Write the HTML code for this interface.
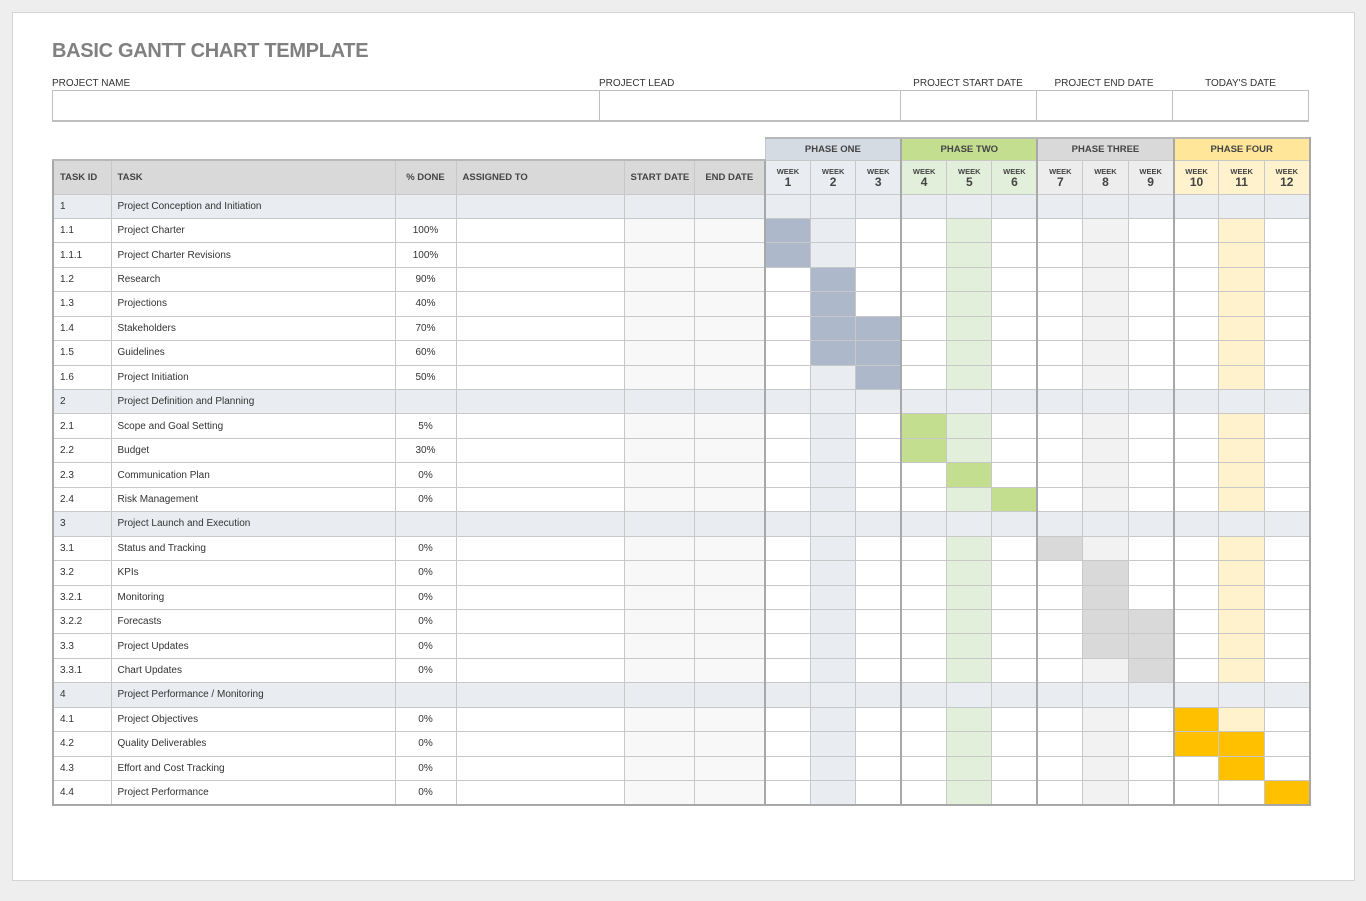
<!DOCTYPE html>
<html><head><meta charset="utf-8"><style>
body{margin:0;background:#eeeeee;width:1366px;height:901px;position:relative;font-family:"Liberation Sans",sans-serif;color:#333}
.card{position:absolute;left:12px;top:12px;width:1341px;height:867px;background:#fff;border:1px solid #d4d4d4}
.title{position:absolute;left:52px;top:40px;font-size:20px;font-weight:bold;color:#808080;letter-spacing:-0.3px}
.lbl{position:absolute;top:78px;font-size:10px;color:#333}
.box{position:absolute;top:90px;height:32px;border:1px solid #bfbfbf;border-bottom:2px solid #bfbfbf;box-sizing:border-box}
table{position:absolute;left:52px;top:137px;border-collapse:collapse;table-layout:fixed;width:1257px}
td{border:1px solid #c8c8c8;padding:0 6px;font-size:10px;height:24.44px;white-space:nowrap;overflow:hidden;box-sizing:border-box}
tr.ph td{height:22px;text-align:center;font-weight:bold;font-size:9.5px;color:#444}
tr.ph td.e{border:none;background:none}
tr.hd td{height:34px;background:#d9d9d9;font-weight:bold;font-size:9.5px;color:#444}
tr.hd td.wk{text-align:center;padding:0;font-size:7.5px;line-height:11px}
tr.hd td.wk b{font-size:12px;display:block}
td.p{text-align:center}
tbody td:nth-child(5),tbody td:nth-child(6){background:#f8f8f8}
tbody td:nth-child(8){background:#e9ecf0}
tbody td:nth-child(11){background:#e2efda}
tbody td:nth-child(14){background:#f2f2f2}
tbody td:nth-child(17){background:#fff2cc}
tbody tr.g td{background:#e9ecf0}
td:nth-child(7),td:nth-child(10),td:nth-child(13),td:nth-child(16){border-left:2px solid #a8a8a8}
td:nth-child(18){border-right:2px solid #a8a8a8}
tbody td.b1{background:#adb9ca}
tbody td.b2{background:#c3de8f}
tbody td.b3{background:#d9d9d9}
tbody td.b4{background:#ffc000}
tbody td.w{background:#fff}
tbody tr:last-child td{border-bottom:2px solid #a8a8a8}
td:first-child{border-left:2px solid #a8a8a8}
</style></head><body>
<div class="card"></div>
<div class="title">BASIC GANTT CHART TEMPLATE</div>
<div class="lbl" style="left:52px">PROJECT NAME</div>
<div class="lbl" style="left:599px">PROJECT LEAD</div>
<div class="lbl" style="left:900px;width:136px;text-align:center">PROJECT START DATE</div>
<div class="lbl" style="left:1036px;width:136px;text-align:center">PROJECT END DATE</div>
<div class="lbl" style="left:1172px;width:137px;text-align:center">TODAY'S DATE</div>
<div class="box" style="left:52px;width:548px"></div>
<div class="box" style="left:599px;width:302px"></div>
<div class="box" style="left:900px;width:137px"></div>
<div class="box" style="left:1036px;width:137px"></div>
<div class="box" style="left:1172px;width:137px"></div>
<table>
<colgroup><col style="width:58px"><col style="width:284px"><col style="width:61px"><col style="width:168px"><col style="width:70px"><col style="width:71px"><col span="12" style="width:45.4px"></colgroup>
<thead>
<tr class="ph"><td class="e" colspan="6" style="border:none"></td><td colspan="3" style="background:#d5dbe3;border-top:2px solid #b8b8b8">PHASE ONE</td><td colspan="3" style="background:#c3de8f;border-top:2px solid #b8b8b8;border-left:2px solid #a8a8a8">PHASE TWO</td><td colspan="3" style="background:#d9d9d9;border-top:2px solid #b8b8b8;border-left:2px solid #a8a8a8">PHASE THREE</td><td colspan="3" style="background:#ffe699;border-top:2px solid #b8b8b8;border-left:2px solid #a8a8a8;border-right:2px solid #a8a8a8">PHASE FOUR</td></tr>
<tr class="hd"><td style="border-top:2px solid #b8b8b8">TASK ID</td><td style="border-top:2px solid #b8b8b8">TASK</td><td class="p" style="border-top:2px solid #b8b8b8">% DONE</td><td style="border-top:2px solid #b8b8b8">ASSIGNED TO</td><td class="p" style="border-top:2px solid #b8b8b8">START DATE</td><td class="p" style="border-top:2px solid #b8b8b8">END DATE</td>
<td class="wk" style="background:#e9ecf0">WEEK<b>1</b></td><td class="wk" style="background:#e9ecf0">WEEK<b>2</b></td><td class="wk" style="background:#e9ecf0">WEEK<b>3</b></td>
<td class="wk" style="background:#e2efda">WEEK<b>4</b></td><td class="wk" style="background:#e2efda">WEEK<b>5</b></td><td class="wk" style="background:#e2efda">WEEK<b>6</b></td>
<td class="wk" style="background:#ededed">WEEK<b>7</b></td><td class="wk" style="background:#ededed">WEEK<b>8</b></td><td class="wk" style="background:#ededed">WEEK<b>9</b></td>
<td class="wk" style="background:#fff2cc">WEEK<b>10</b></td><td class="wk" style="background:#fff2cc">WEEK<b>11</b></td><td class="wk" style="background:#fff2cc">WEEK<b>12</b></td></tr>
</thead>
<tbody>
<tr class="g"><td>1</td><td>Project Conception and Initiation</td><td class="p"></td><td></td><td></td><td></td><td></td><td></td><td></td><td></td><td></td><td></td><td></td><td></td><td></td><td></td><td></td><td></td></tr>
<tr><td>1.1</td><td>Project Charter</td><td class="p">100%</td><td></td><td></td><td></td><td class="b1"></td><td></td><td></td><td></td><td></td><td></td><td></td><td></td><td></td><td></td><td></td><td></td></tr>
<tr><td>1.1.1</td><td>Project Charter Revisions</td><td class="p">100%</td><td></td><td></td><td></td><td class="b1"></td><td></td><td></td><td></td><td></td><td></td><td></td><td></td><td></td><td></td><td></td><td></td></tr>
<tr><td>1.2</td><td>Research</td><td class="p">90%</td><td></td><td></td><td></td><td></td><td class="b1"></td><td></td><td></td><td></td><td></td><td></td><td></td><td></td><td></td><td></td><td></td></tr>
<tr><td>1.3</td><td>Projections</td><td class="p">40%</td><td></td><td></td><td></td><td></td><td class="b1"></td><td></td><td></td><td></td><td></td><td></td><td></td><td></td><td></td><td></td><td></td></tr>
<tr><td>1.4</td><td>Stakeholders</td><td class="p">70%</td><td></td><td></td><td></td><td></td><td class="b1"></td><td class="b1"></td><td></td><td></td><td></td><td></td><td></td><td></td><td></td><td></td><td></td></tr>
<tr><td>1.5</td><td>Guidelines</td><td class="p">60%</td><td></td><td></td><td></td><td></td><td class="b1"></td><td class="b1"></td><td></td><td></td><td></td><td></td><td></td><td></td><td></td><td></td><td></td></tr>
<tr><td>1.6</td><td>Project Initiation</td><td class="p">50%</td><td></td><td></td><td></td><td></td><td></td><td class="b1"></td><td></td><td></td><td></td><td></td><td></td><td></td><td></td><td></td><td></td></tr>
<tr class="g"><td>2</td><td>Project Definition and Planning</td><td class="p"></td><td></td><td></td><td></td><td></td><td></td><td></td><td></td><td></td><td></td><td></td><td></td><td></td><td></td><td></td><td></td></tr>
<tr><td>2.1</td><td>Scope and Goal Setting</td><td class="p">5%</td><td></td><td></td><td></td><td></td><td></td><td></td><td class="b2"></td><td></td><td></td><td></td><td></td><td></td><td></td><td></td><td></td></tr>
<tr><td>2.2</td><td>Budget</td><td class="p">30%</td><td></td><td></td><td></td><td></td><td></td><td></td><td class="b2"></td><td></td><td></td><td></td><td></td><td></td><td></td><td></td><td></td></tr>
<tr><td>2.3</td><td>Communication Plan</td><td class="p">0%</td><td></td><td></td><td></td><td></td><td></td><td></td><td></td><td class="b2"></td><td></td><td></td><td></td><td></td><td></td><td></td><td></td></tr>
<tr><td>2.4</td><td>Risk Management</td><td class="p">0%</td><td></td><td></td><td></td><td></td><td></td><td></td><td></td><td></td><td class="b2"></td><td></td><td></td><td></td><td></td><td></td><td></td></tr>
<tr class="g"><td>3</td><td>Project Launch and Execution</td><td class="p"></td><td></td><td></td><td></td><td></td><td></td><td></td><td></td><td></td><td></td><td></td><td></td><td></td><td></td><td></td><td></td></tr>
<tr><td>3.1</td><td>Status and Tracking</td><td class="p">0%</td><td></td><td></td><td></td><td></td><td></td><td></td><td></td><td></td><td></td><td class="b3"></td><td></td><td></td><td></td><td></td><td></td></tr>
<tr><td>3.2</td><td>KPIs</td><td class="p">0%</td><td></td><td></td><td></td><td></td><td></td><td></td><td></td><td></td><td></td><td></td><td class="b3"></td><td></td><td></td><td></td><td></td></tr>
<tr><td>3.2.1</td><td>Monitoring</td><td class="p">0%</td><td></td><td></td><td></td><td></td><td></td><td></td><td></td><td></td><td></td><td></td><td class="b3"></td><td></td><td></td><td></td><td></td></tr>
<tr><td>3.2.2</td><td>Forecasts</td><td class="p">0%</td><td></td><td></td><td></td><td></td><td></td><td></td><td></td><td></td><td></td><td></td><td class="b3"></td><td class="b3"></td><td></td><td></td><td></td></tr>
<tr><td>3.3</td><td>Project Updates</td><td class="p">0%</td><td></td><td></td><td></td><td></td><td></td><td></td><td></td><td></td><td></td><td></td><td class="b3"></td><td class="b3"></td><td></td><td></td><td></td></tr>
<tr><td>3.3.1</td><td>Chart Updates</td><td class="p">0%</td><td></td><td></td><td></td><td></td><td></td><td></td><td></td><td></td><td></td><td></td><td></td><td class="b3"></td><td></td><td></td><td></td></tr>
<tr class="g"><td>4</td><td>Project Performance / Monitoring</td><td class="p"></td><td></td><td></td><td></td><td></td><td></td><td></td><td></td><td></td><td></td><td></td><td></td><td></td><td></td><td></td><td></td></tr>
<tr><td>4.1</td><td>Project Objectives</td><td class="p">0%</td><td></td><td></td><td></td><td></td><td></td><td></td><td></td><td></td><td></td><td></td><td></td><td></td><td class="b4"></td><td></td><td></td></tr>
<tr><td>4.2</td><td>Quality Deliverables</td><td class="p">0%</td><td></td><td></td><td></td><td></td><td></td><td></td><td></td><td></td><td></td><td></td><td></td><td></td><td class="b4"></td><td class="b4"></td><td></td></tr>
<tr><td>4.3</td><td>Effort and Cost Tracking</td><td class="p">0%</td><td></td><td></td><td></td><td></td><td></td><td></td><td></td><td></td><td></td><td></td><td></td><td></td><td></td><td class="b4"></td><td></td></tr>
<tr><td>4.4</td><td>Project Performance</td><td class="p">0%</td><td></td><td></td><td></td><td></td><td></td><td></td><td></td><td></td><td></td><td></td><td></td><td></td><td></td><td class="w"></td><td class="b4"></td></tr>
</tbody>
</table>
</body></html>
